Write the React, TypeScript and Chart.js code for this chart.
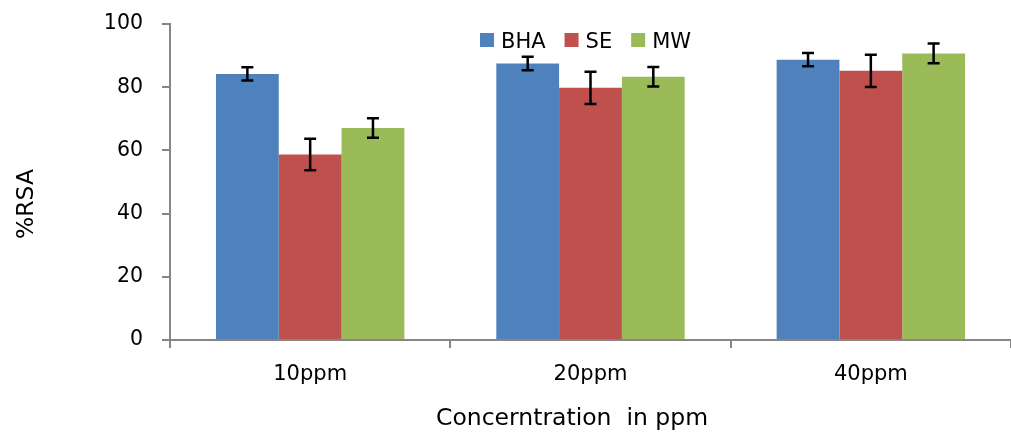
import React, { useEffect, useRef } from 'react';
import { Chart, registerables } from 'chart.js';

Chart.register(...registerables);

const categories = ['10ppm', '20ppm', '40ppm'];
const seriesNames = ['BHA', 'SE', 'MW'];
const bhaValues = [84.2, 87.5, 88.7];
const seValues = [58.7, 79.8, 85.2];
const mwValues = [67.1, 83.3, 90.7];
const bhaErrors = [2.1, 2.1, 2.1];
const seErrors = [5.0, 5.1, 5.1];
const mwErrors = [3.1, 3.1, 3.1];
const yTicks = [0, 20, 40, 60, 80, 100];
const xTitle = 'Concerntration  in ppm';
const yTitle = '%RSA';

const colors = ['#4F81BD', '#C0504D', '#9BBB59'];
const FONT = '"DejaVu Sans", sans-serif';

export default function App() {
  const ref = useRef<HTMLCanvasElement | null>(null);

  useEffect(() => {
    document.body.style.margin = '0';
    const canvas = ref.current!;
    const seriesValues = [bhaValues, seValues, mwValues];
    const seriesErrors = [bhaErrors, seErrors, mwErrors];

    const extras = {
      id: 'extras',
      afterDatasetsDraw(chart: any) {
        const ctx = chart.ctx;
        const yScale = chart.scales.y;
        ctx.save();
        ctx.strokeStyle = '#000';
        ctx.lineWidth = 2.5;
        seriesErrors.forEach((errs, i) => {
          const meta = chart.getDatasetMeta(i);
          meta.data.forEach((bar: any, j: number) => {
            const v = seriesValues[i][j];
            const e = errs[j];
            const yTop = yScale.getPixelForValue(v + e);
            const yBot = yScale.getPixelForValue(v - e);
            const x = bar.x;
            ctx.beginPath();
            ctx.moveTo(x, yTop);
            ctx.lineTo(x, yBot);
            ctx.moveTo(x - 6, yTop);
            ctx.lineTo(x + 6, yTop);
            ctx.moveTo(x - 6, yBot);
            ctx.lineTo(x + 6, yBot);
            ctx.stroke();
          });
        });
        ctx.restore();
      },
      afterDraw(chart: any) {
        const ctx = chart.ctx;
        ctx.save();
        ctx.fillStyle = '#000';
        ctx.font = `21px ${FONT}`;
        // legend
        let x = 480;
        const yBox = 33;
        ctx.textBaseline = 'alphabetic';
        ctx.textAlign = 'left';
        seriesNames.forEach((name, i) => {
          ctx.fillStyle = colors[i];
          ctx.fillRect(x, yBox, 14, 14);
          ctx.fillStyle = '#000';
          ctx.fillText(name, x + 21, 48);
          x += 21 + ctx.measureText(name).width + 19;
        });
        // axis titles
        ctx.font = `23.5px ${FONT}`;
        ctx.textAlign = 'center';
        ctx.fillText(xTitle, 572, 425);
        ctx.translate(33, 204);
        ctx.rotate(-Math.PI / 2);
        ctx.fillText(yTitle, 0, 0);
        ctx.restore();
      },
    };

    const chart = new Chart(canvas, {
      type: 'bar',
      data: {
        labels: categories,
        datasets: seriesNames.map((name, i) => ({
          label: name,
          data: seriesValues[i],
          backgroundColor: colors[i],
          borderWidth: 0,
          categoryPercentage: 0.672,
          barPercentage: 1,
        })),
      },
      options: {
        responsive: false,
        animation: false,
        devicePixelRatio: 1,
        layout: { padding: { top: 24, left: 0, right: 0, bottom: 0 } },
        plugins: {
          legend: { display: false },
          tooltip: { enabled: false },
        },
        scales: {
          x: {
            afterFit: (s: any) => { s.height = 92; },
            grid: {
              offset: true,
              drawOnChartArea: false,
              drawTicks: true,
              tickLength: 8,
              color: '#868686',
              lineWidth: 2,
            },
            border: { display: true, color: '#868686', width: 2 },
            ticks: {
              color: '#000',
              font: { family: FONT, size: 21 },
              padding: 14,
            },
          },
          y: {
            min: 0,
            max: 100,
            afterFit: (s: any) => {
              s.width = 170;
              s.paddingTop = 0;
              s.paddingBottom = 0;
            },
            afterBuildTicks: (s: any) => { s.ticks = yTicks.map((v) => ({ value: v })); },
            grid: {
              drawOnChartArea: false,
              drawTicks: true,
              tickLength: 8,
              color: '#868686',
              lineWidth: 2,
            },
            border: { display: true, color: '#868686', width: 2 },
            ticks: {
              color: '#000',
              font: { family: FONT, size: 20.5 },
              padding: 19,
            },
          },
        },
      },
      plugins: [extras],
    });
    return () => chart.destroy();
  }, []);

  return (
    <div style={{ position: 'absolute', left: 0, top: 0, width: 1011, height: 432, background: '#fff' }}>
      <canvas ref={ref} width={1011} height={432} style={{ display: 'block' }} />
    </div>
  );
}
